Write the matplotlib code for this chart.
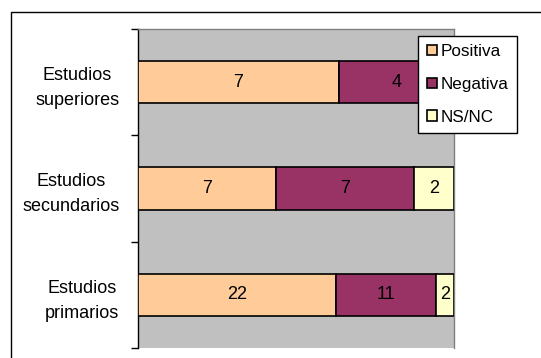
import matplotlib
matplotlib.use("Agg")
import matplotlib.pyplot as plt
from matplotlib.patches import Rectangle
import numpy as np

plt.rcParams['font.family'] = ['Liberation Sans', 'DejaVu Sans']

categories = ["Estudios\nsuperiores", "Estudios\nsecundarios", "Estudios\nprimarios"]
series_names = ["Positiva", "Negativa", "NS/NC"]
positiva = [7, 7, 22]
negativa = [4, 7, 11]
nsnc = [0, 2, 2]
colors = ["#FFCC99", "#993366", "#FFFFCC"]

W, H = 541, 358
fig = plt.figure(figsize=(W / 100, H / 100), dpi=100)
fig.patch.set_facecolor("white")

# outer chart border (extends past right/bottom edges)
fig.patches.append(Rectangle((10.5 / W, -0.1), 1.2, 1.1 - 11.5 / H,
                             transform=fig.transFigure, fill=False,
                             edgecolor="black", linewidth=1.0, zorder=0))

left, right, top, bottom = 137.5 / W, 454 / W, 1 - 29 / H, 1 - 348 / H
ax = fig.add_axes([left, bottom, right - left, top - bottom])
ax.set_facecolor("#C0C0C0")

data = np.array([positiva, negativa, nsnc], dtype=float)
totals = data.sum(axis=0)
ypos = np.arange(len(categories))[::-1]
lefts = np.zeros(len(categories))
handles = []
for name, vals, col in zip(series_names, data, colors):
    frac = vals / totals
    bars = ax.barh(ypos, frac, left=lefts, height=0.4, color=col,
                   edgecolor="black", linewidth=1.2, label=name, zorder=3)
    handles.append(bars)
    for y, l, f, v in zip(ypos, lefts, frac, vals):
        if v > 0:
            ax.text(l + f / 2, y, f"{int(v)}", ha="center", va="center",
                    fontsize=13, color="black", zorder=4)
    lefts = lefts + frac

ax.set_xlim(0, 1)
ax.set_ylim(-0.5, 2.5)
ax.set_xticks([])
ax.set_yticks(ypos)
ax.set_yticklabels(categories, fontsize=13, multialignment="center",
                   linespacing=1.6)
ax.tick_params(axis="y", which="major", length=0, pad=13)
ax.set_yticks([-0.5, 0.5, 1.5, 2.5], minor=True)
ax.tick_params(axis="y", which="minor", length=5, width=1.0, color="black",
               direction="out")
for s in ["top", "right", "bottom"]:
    ax.spines[s].set_color("#808080")
    ax.spines[s].set_linewidth(1.0)
ax.spines["bottom"].set_visible(False)
ax.spines["left"].set_color("black")
ax.spines["left"].set_linewidth(1.0)

leg = fig.legend(handles=handles, labels=series_names, loc="upper left",
                 bbox_to_anchor=(418 / W, 1 - 35.5 / H), borderaxespad=0,
                 fontsize=12.3, frameon=True, fancybox=False,
                 edgecolor="black", framealpha=1, handlelength=0.6,
                 handleheight=0.6, handletextpad=0.25, labelspacing=1.05,
                 borderpad=0.5)
leg.get_frame().set_linewidth(1.0)
for h in leg.legend_handles:
    h.set_linewidth(1.2)

fig.savefig("out.png", dpi=100)
